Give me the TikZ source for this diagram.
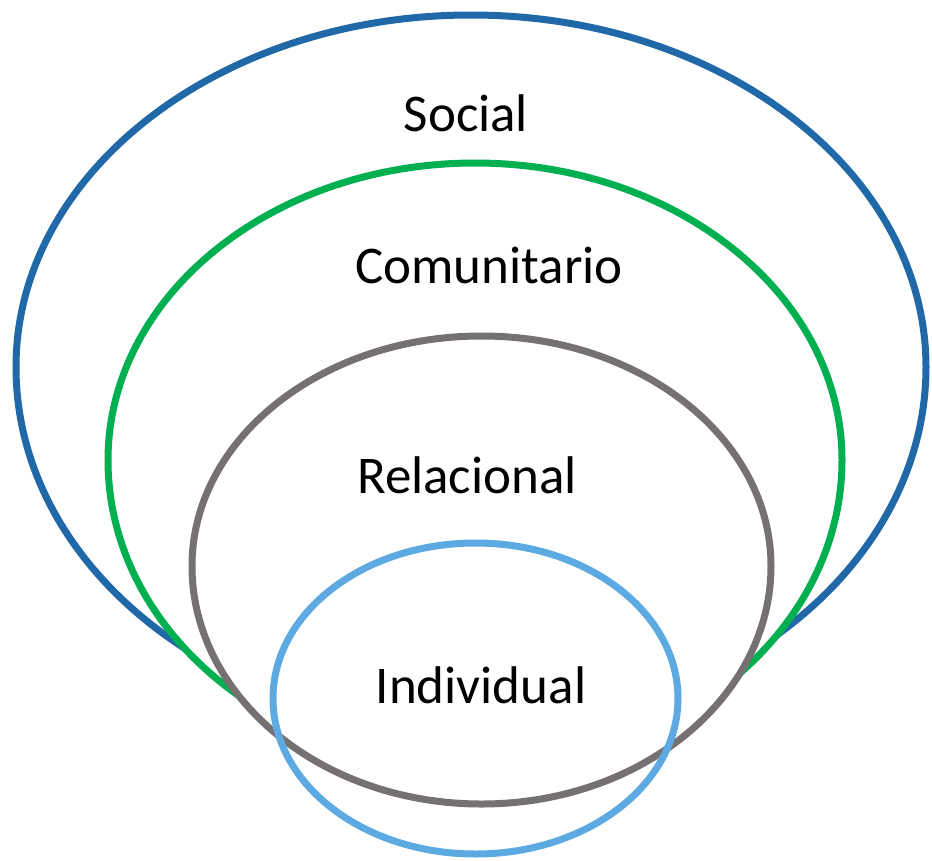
\documentclass[tikz,border=0pt]{standalone}
\usepackage{fontspec}
\setmainfont{Carlito}
\definecolor{socialblue}{HTML}{2068A8}
\definecolor{comgreen}{HTML}{00B050}
\definecolor{relgrey}{HTML}{767171}
\definecolor{indblue}{HTML}{5DA9E2}
\tikzset{ring/.style={line width=7pt},
  lbl/.style={anchor=base,inner sep=0pt,font=\fontsize{53}{60}\selectfont}}
% egg: centre x, centre y, x radius, top y radius, bottom y radius
\newcommand{\eggpath}[5]{(#1-#3,#2) arc[start angle=180,end angle=360,x radius=#3,y radius=#4]
  arc[start angle=0,end angle=180,x radius=#3,y radius=#5] -- cycle}
\begin{document}
\begin{tikzpicture}[x=1pt,y=-1pt]
\useasboundingbox (0,0) rectangle (932,860);
\draw[ring,socialblue,fill=white] \eggpath{471}{367}{455}{352}{362};
\draw[ring,comgreen,fill=white] \eggpath{475}{460}{367}{297}{308};
\draw[ring,relgrey,fill=white] \eggpath{481.5}{566}{289.5}{230}{238};
\draw[ring,indblue] (475.5,698.5) ellipse [x radius=202.5,y radius=155.5];
\node[lbl] (social) at (466,131) {Social};
\node[lbl] (comunitario) at (489,283) {Comunitario};
\node[lbl] (relacional) at (467,493) {Relacional};
\node[lbl] (individual) at (481,703) {Individual};
\end{tikzpicture}
\end{document}
